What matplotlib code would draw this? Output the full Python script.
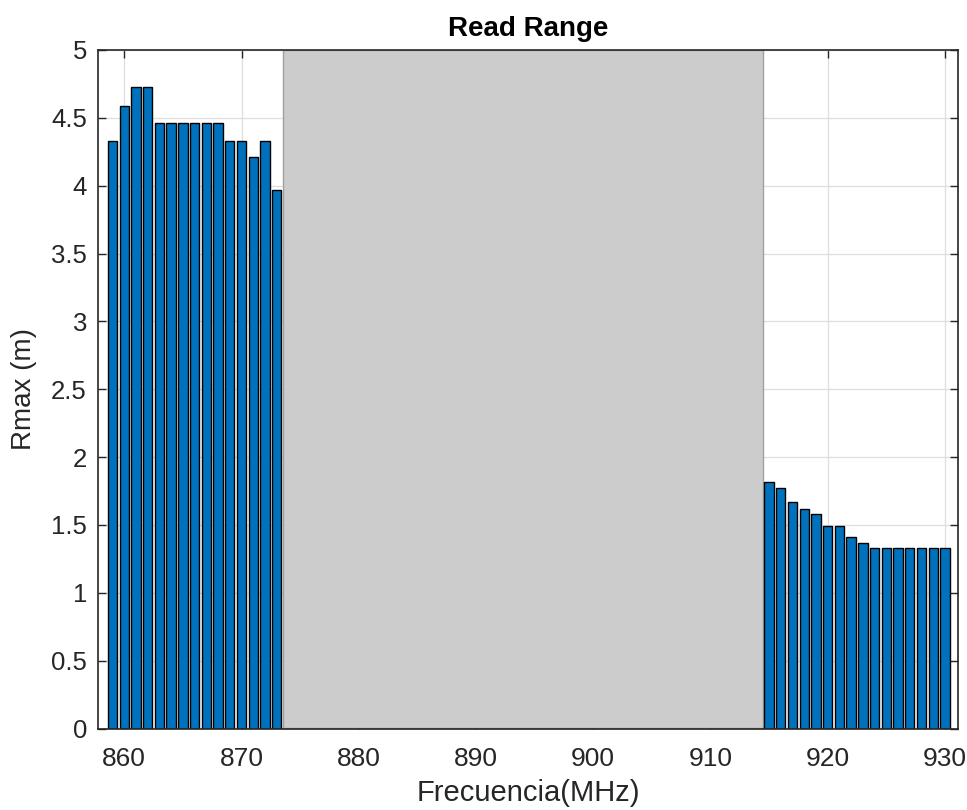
import matplotlib
matplotlib.use("Agg")
import matplotlib.pyplot as plt
import numpy as np

plt.rcParams['font.family'] = ['Liberation Sans', 'DejaVu Sans']

freq_low = [859, 860, 861, 862, 863, 864, 865, 866, 867, 868, 869, 870, 871, 872, 873]
rmax_low = [4.33, 4.59, 4.73, 4.73, 4.46, 4.46, 4.46, 4.46, 4.46, 4.46, 4.33, 4.33, 4.21, 4.33, 3.97]
freq_high = [915, 916, 917, 918, 919, 920, 921, 922, 923, 924, 925, 926, 927, 928, 929, 930]
rmax_high = [1.82, 1.77, 1.67, 1.62, 1.58, 1.49, 1.49, 1.41, 1.37, 1.33, 1.33, 1.33, 1.33, 1.33, 1.33, 1.33]
gap_band = (873.5, 914.5)
gap_height = 5
xticks = [860, 870, 880, 890, 900, 910, 920, 930]
yticks = [0, 0.5, 1, 1.5, 2, 2.5, 3, 3.5, 4, 4.5, 5]

fig = plt.figure(figsize=(9.67, 8.1), dpi=100)
ax = fig.add_axes([98/967, 1-728.5/810, (958.3-98)/967, (728.5-50)/810])

ax.set_axisbelow(True)
ax.grid(True, color='#dedede', linewidth=0.9, zorder=0)

ax.bar(freq_low, rmax_low, width=0.8, color='#0072BD', edgecolor='black', linewidth=1.0, zorder=2)
ax.bar(freq_high, rmax_high, width=0.8, color='#0072BD', edgecolor='black', linewidth=1.0, zorder=2)
ax.fill_between(gap_band, [0, 0], [gap_height, gap_height], facecolor='#cccccc',
                edgecolor='#a0a0a0', linewidth=1.0, zorder=1.5)

ax.set_xlim(857.76, 931.14)
ax.set_ylim(0, 5)
ax.set_xticks(xticks)
ax.set_yticks(yticks)
ax.set_yticklabels(['0', '0.5', '1', '1.5', '2', '2.5', '3', '3.5', '4', '4.5', '5'])

ax.tick_params(direction='in', length=6, width=1.0, colors='#262626', labelsize=18.5,
               top=True, right=True, pad=8)
ax.tick_params(axis='x', labelsize=19, pad=13)
for s in ax.spines.values():
    s.set_color('#262626')
    s.set_linewidth(1.2)
    s.set_zorder(3)

ax.set_xlabel('Frecuencia(MHz)', fontsize=21, color='#262626', labelpad=6)
ax.set_ylabel('Rmax (m)', fontsize=20, color='#262626', labelpad=10)
ax.set_title('Read Range', fontsize=20, fontweight='bold', color='black', pad=10)

fig.savefig('out.png', dpi=100)
